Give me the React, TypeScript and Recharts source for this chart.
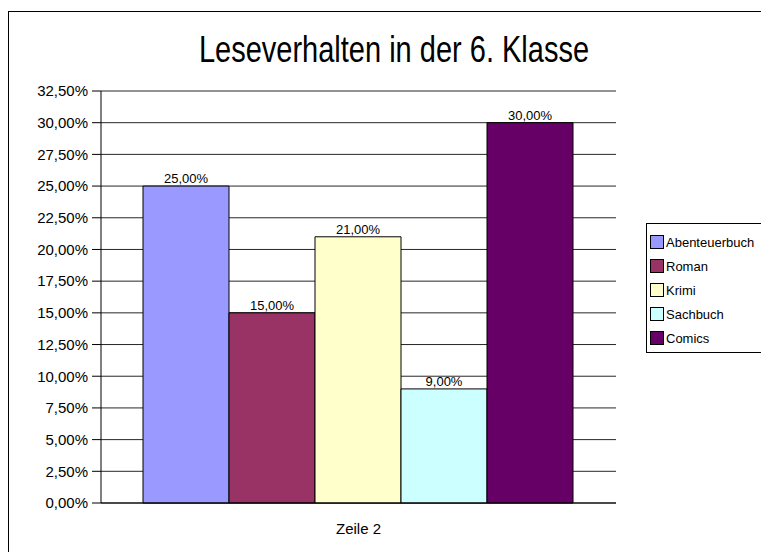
import { BarChart, Bar, XAxis, YAxis, CartesianGrid, LabelList } from "recharts";

const categories = ["Zeile 2"];
const seriesNames = ["Abenteuerbuch", "Roman", "Krimi", "Sachbuch", "Comics"];
const seriesValues = [0.25, 0.15, 0.21, 0.09, 0.3];
const seriesColors = ["#9999FF", "#993366", "#FFFFCC", "#CCFFFF", "#660066"];
const yTicks = [0, 0.025, 0.05, 0.075, 0.1, 0.125, 0.15, 0.175, 0.2, 0.225, 0.25, 0.275, 0.3, 0.325];

const FONT = "Arial, 'Liberation Sans', sans-serif";

const data = categories.map((name) => {
  const row: any = { name };
  seriesNames.forEach((s, i) => {
    row[s] = seriesValues[i];
  });
  return row;
});

const pct = (v: number) => (v * 100).toFixed(2).replace(".", ",") + "%";

// legend box drawn by hand, Excel keeps series order
function ChartLegend() {
  return (
    <div
      style={{
        position: "absolute",
        left: 638,
        top: 215,
        border: "1px solid #000",
        width: 120,
        padding: "6px 0 2px 3px",
        boxSizing: "border-box",
        background: "#fff",
        fontFamily: FONT,
        fontSize: 13,
      }}
    >
      {seriesNames.map((s, i) => (
        <div key={s} style={{ display: "flex", alignItems: "center", height: 24 }}>
          <span
            style={{
              display: "inline-block",
              width: 14,
              height: 14,
              background: seriesColors[i],
              border: "1px solid #000",
              boxSizing: "border-box",
              marginRight: 2,
            }}
          />
          <span style={{ color: "#000" }}>{s}</span>
        </div>
      ))}
    </div>
  );
}

export default function App() {
  return (
    <div style={{ position: "relative", width: 761, height: 544, overflow: "hidden", fontFamily: FONT }}>
      <div
        style={{
          position: "absolute",
          left: 0,
          top: 3,
          width: 900,
          height: 700,
          border: "1px solid #000",
          boxSizing: "border-box",
        }}
      />
      <div
        style={{
          position: "absolute",
          left: 386,
          top: 27,
          fontSize: 29,
          lineHeight: "28px",
          whiteSpace: "nowrap",
          color: "#000",
          transform: "translateX(-50%) scaleY(1.3)",
        }}
      >
        Leseverhalten in der 6. Klasse
      </div>
      <div style={{ position: "absolute", left: 0, top: 0 }}>
        <BarChart
          width={761}
          height={544}
          data={data}
          margin={{ top: 83, right: 153, bottom: 19, left: 0 }}
          barCategoryGap={42}
          barGap={0}
        >
          <CartesianGrid vertical={false} stroke="#000" strokeOpacity={0.85} />
          <XAxis
            dataKey="name"
            height={30}
            axisLine={{ stroke: "#000" }}
            tickLine={false}
            tickMargin={14}
            tick={{ fontSize: 15, fill: "#000", fontFamily: FONT }}
          />
          <YAxis
            width={93}
            domain={[0, 0.325]}
            ticks={yTicks}
            interval={0}
            tickFormatter={pct}
            axisLine={{ stroke: "#000" }}
            tickLine={{ stroke: "#000" }}
            tickSize={9}
            tickMargin={4}
            tick={{ fontSize: 15, fill: "#000", fontFamily: FONT }}
          />
          <YAxis
            yAxisId="frame"
            orientation="right"
            width={0}
            domain={[0, 0.325]}
            tick={false}
            tickLine={false}
            axisLine={{ stroke: "#808080" }}
          />
          {seriesNames.map((s, i) => (
            <Bar key={s} dataKey={s} name={s} fill={seriesColors[i]} stroke="#000" strokeWidth={1} isAnimationActive={false}>
              <LabelList
                dataKey={s}
                position="top"
                offset={3}
                formatter={(v: any) => pct(Number(v))}
                style={{ fontSize: 13, fill: "#000", fontFamily: FONT }}
              />
            </Bar>
          ))}
        </BarChart>
      </div>
      <ChartLegend />
    </div>
  );
}
